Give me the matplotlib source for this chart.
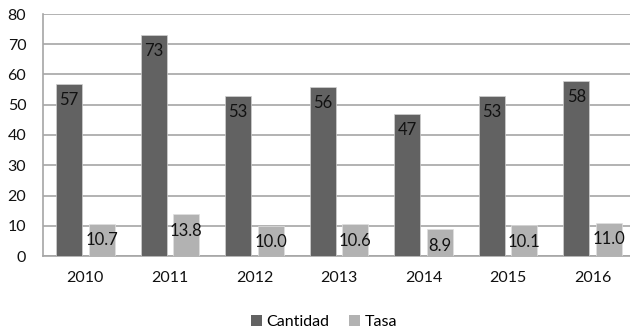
import matplotlib
matplotlib.use("Agg")
import matplotlib.pyplot as plt
from matplotlib.patches import Patch
import numpy as np

years = ["2010", "2011", "2012", "2013", "2014", "2015", "2016"]
cantidad = [57, 73, 53, 56, 47, 53, 58]
tasa = [10.7, 13.8, 10.0, 10.6, 8.9, 10.1, 11.0]
yticks = [0, 10, 20, 30, 40, 50, 60, 70, 80]

plt.rcParams["font.family"] = ["Lato", "DejaVu Sans"]

c_cant = "#626262"
c_tasa = "#b2b2b2"
grid_c = "#a6a6a6"

fig = plt.figure(figsize=(6.30, 3.32), dpi=100)
ax = fig.add_axes([43 / 630, 1 - 256 / 332, 592 / 630, 242 / 332])

x = np.arange(len(years))
w = 0.307
off = 0.192
ax.bar(x - off, cantidad, w, color=c_cant, edgecolor="#d0d0d0", linewidth=0.5, zorder=3)
ax.bar(x + off, tasa, w, color=c_tasa, edgecolor="#e0e0e0", linewidth=0.5, zorder=3)

for xi, v in zip(x, cantidad):
    ax.annotate(f"{v}", (xi - off, v), xytext=(0, -11.5), textcoords="offset points",
                ha="center", va="center", fontsize=12, color="#111111", zorder=4)
for xi, v in zip(x, tasa):
    ax.annotate(f"{v:.1f}", (xi + off, v), xytext=(0, -12), textcoords="offset points",
                ha="center", va="center", fontsize=12, color="#111111", zorder=4)

ax.set_xlim(-0.5, len(years) - 0.5)
ax.set_ylim(0, 80)
ax.set_yticks(yticks)
ax.set_yticklabels([str(t) for t in yticks], fontsize=11.5)
ax.set_xticks(x)
ax.set_xticklabels(years, fontsize=11.5)
ax.tick_params(axis="both", length=0, colors="#111111")
ax.tick_params(axis="y", pad=12)
ax.tick_params(axis="x", pad=11)
ax.yaxis.grid(True, color=grid_c, linewidth=1.2, zorder=0)
ax.set_axisbelow(True)
for s in ["top", "right"]:
    ax.spines[s].set_visible(False)
ax.spines["left"].set_color(grid_c)
ax.spines["left"].set_linewidth(1.2)
ax.spines["bottom"].set_color(grid_c)
ax.spines["bottom"].set_linewidth(1.2)

handles = [Patch(facecolor=c_cant, label="Cantidad"), Patch(facecolor=c_tasa, label="Tasa")]
fig.legend(handles=handles, loc="center", bbox_to_anchor=(324 / 630, 1 - 322 / 332),
           ncol=2, frameon=False, fontsize=11.5, handlelength=0.7, handleheight=0.7,
           handletextpad=0.3, columnspacing=1.2)

fig.savefig("out.png", dpi=100)
